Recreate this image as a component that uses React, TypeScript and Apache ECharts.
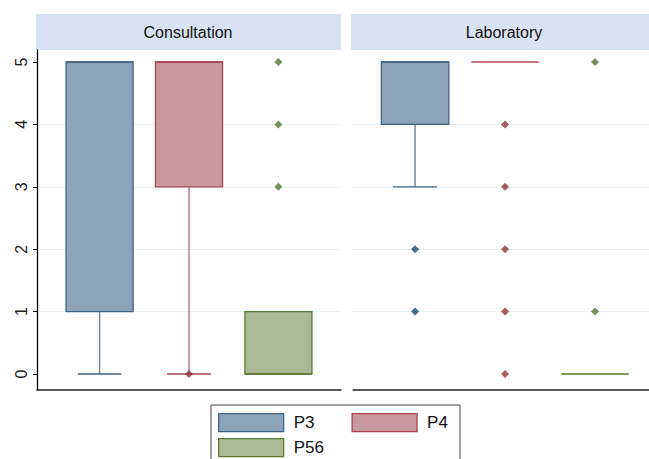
import React, { useEffect, useRef } from "react";
import * as echarts from "echarts";

// ---- data ----
const panels = ["Consultation", "Laboratory"];
const groups = ["P3", "P4", "P56"];
// five-number summaries: [lower adjacent, Q1, median, Q3, upper adjacent]
const consultationStats = [
  [0, 1, 5, 5, 5],
  [0, 3, 5, 5, 5],
  [0, 0, 0, 1, 1],
];
const laboratoryStats = [
  [3, 4, 5, 5, 5],
  [5, 5, 5, 5, 5],
  [0, 0, 0, 0, 0],
];
const consultationOutliers = [[], [0], [3, 4, 5]];
const laboratoryOutliers = [[2, 1], [4, 3, 2, 1, 0], [1, 5]];
const yTicks = [0, 1, 2, 3, 4, 5];

// ---- styles ----
const groupStyles = [
  { fill: "#8da3b8", border: "#3f6486", whisker: "#6d8aa6", marker: "#1a476f", flat: "#6f8cab" },
  { fill: "#c9999d", border: "#a5454e", whisker: "#c27f85", marker: "#90353b", flat: "#c4767d" },
  { fill: "#abba95", border: "#5a7a34", whisker: "#7f9a5e", marker: "#55752f", flat: "#7c9c57" },
];
const FONT = "'Liberation Sans', Arial, sans-serif";

export default function App() {
  const ref = useRef<HTMLDivElement>(null);

  useEffect(() => {
    if (!ref.current) return;
    const chart = echarts.init(ref.current, undefined, { renderer: "svg" });

    const statsByPanel = [consultationStats, laboratoryStats];
    const outByPanel = [consultationOutliers, laboratoryOutliers];

    const series: any[] = [];
    statsByPanel.forEach((stats, p) => {
      stats.forEach((s, g) => {
        const st = groupStyles[g];
        series.push({
          type: "custom",
          name: groups[g],
          xAxisIndex: p,
          yAxisIndex: p,
          data: [[g + 1, ...s]],
          encode: { x: 0, y: [1, 2, 3, 4, 5] },
          renderItem: (params: any, api: any) => {
            const x = api.value(0);
            const lo = api.value(1);
            const q1 = api.value(2);
            const med = api.value(3);
            const q3 = api.value(4);
            const hi = api.value(5);
            const half = api.size([0.75, 0])[0] / 2;
            const capHalf = api.size([0.49, 0])[0] / 2;
            const cx = api.coord([x, 0])[0];
            const y = (v: number) => api.coord([x, v])[1];
            const children: any[] = [];
            if (lo < q1) {
              children.push({
                type: "line",
                shape: { x1: cx, y1: y(q1), x2: cx, y2: y(lo) },
                style: { stroke: st.whisker, lineWidth: 1.5 },
              });
              children.push({
                type: "line",
                shape: { x1: cx - capHalf, y1: y(lo), x2: cx + capHalf, y2: y(lo) },
                style: { stroke: st.border, lineWidth: 1.3 },
              });
            }
            if (hi > q3) {
              children.push({
                type: "line",
                shape: { x1: cx, y1: y(q3), x2: cx, y2: y(hi) },
                style: { stroke: st.whisker, lineWidth: 1.5 },
              });
              children.push({
                type: "line",
                shape: { x1: cx - capHalf, y1: y(hi), x2: cx + capHalf, y2: y(hi) },
                style: { stroke: st.border, lineWidth: 1.3 },
              });
            }
            if (q3 > q1) {
              children.push({
                type: "rect",
                shape: { x: cx - half, y: y(q3), width: half * 2, height: y(q1) - y(q3) },
                style: { fill: st.fill, stroke: st.border, lineWidth: 1.3 },
              });
              children.push({
                type: "line",
                shape: { x1: cx - half, y1: y(med), x2: cx + half, y2: y(med) },
                style: { stroke: st.border, lineWidth: 1.6 },
              });
            } else {
              children.push({
                type: "line",
                shape: { x1: cx - half, y1: y(med), x2: cx + half, y2: y(med) },
                style: { stroke: st.flat, lineWidth: 2 },
              });
            }
            return { type: "group", children };
          },
          z: 2,
        });
      });
      outByPanel[p].forEach((vals, g) => {
        if (!vals.length) return;
        series.push({
          type: "scatter",
          name: groups[g],
          xAxisIndex: p,
          yAxisIndex: p,
          data: vals.map((v) => [g + 1, v]),
          symbol: "diamond",
          symbolSize: 8,
          itemStyle: { color: groupStyles[g].marker },
          z: 5,
        });
      });
    });

    const xAxisBase = {
      type: "value",
      axisLine: { show: true, onZero: false, lineStyle: { color: "#222", width: 1.5 } },
      axisTick: { show: false },
      axisLabel: { show: false },
      splitLine: { show: false },
    };
    const yAxisBase = (showLabels: boolean) => ({
      type: "value",
      min: -0.256,
      max: 5.192,
      splitNumber: 5,
      axisLine: { show: showLabels, onZero: false, lineStyle: { color: "#000", width: 1.3 } },
      axisTick: {
        show: showLabels,
        length: 4,
        customValues: yTicks,
        lineStyle: { color: "#000" },
      },
      axisLabel: {
        show: showLabels,
        rotate: 90,
        margin: 8,
        fontSize: 16,
        fontFamily: FONT,
        color: "#222",
        customValues: yTicks,
      },
      splitLine: {
        show: true,
        showMinLine: false,
        showMaxLine: false,
        lineStyle: { color: "#e7eff2", width: 1 },
      },
    });

    const legendItem = (g: number) => ({
      name: groups[g],
      icon: "rect",
      itemStyle: {
        color: groupStyles[g].fill,
        borderColor: groupStyles[g].border,
        borderWidth: 1.3,
      },
    });
    const legendBase = {
      orient: "horizontal",
      itemWidth: 65,
      itemHeight: 18,
      itemGap: 37,
      padding: 0,
      selectedMode: false,
      textStyle: { fontSize: 17, fontFamily: FONT, color: "#111", padding: [0, 0, 0, 5] },
    };

    chart.setOption({
      animation: false,
      backgroundColor: "#fff",
      textStyle: { fontFamily: FONT },
      grid: [
        { left: 37, top: 50, width: 304, height: 340 },
        { left: 353, top: 50, right: 0, height: 340 },
      ],
      xAxis: [
        { ...xAxisBase, gridIndex: 0, min: 0.3, max: 3.7 },
        { ...xAxisBase, gridIndex: 1, min: 0.31, max: 3.6 },
      ],
      yAxis: [
        { ...yAxisBase(true), gridIndex: 0 },
        { ...yAxisBase(false), gridIndex: 1 },
      ],
      legend: [
        { ...legendBase, left: 218, top: 413, data: [legendItem(0), legendItem(1)] },
        { ...legendBase, left: 218, top: 438, data: [legendItem(2)] },
      ],
      graphic: [
        { type: "rect", shape: { x: 36, y: 14, width: 305, height: 36 }, style: { fill: "#d9e2f3" }, silent: true },
        { type: "rect", shape: { x: 351, y: 14, width: 310, height: 36 }, style: { fill: "#d9e2f3" }, silent: true },
        {
          type: "text",
          x: 188,
          y: 32,
          style: { text: panels[0], font: `16px ${FONT}`, fill: "#111", textAlign: "center", textVerticalAlign: "middle" },
          silent: true,
        },
        {
          type: "text",
          x: 504,
          y: 32,
          style: { text: panels[1], font: `16px ${FONT}`, fill: "#111", textAlign: "center", textVerticalAlign: "middle" },
          silent: true,
        },
        {
          type: "rect",
          shape: { x: 211, y: 405, width: 249, height: 70 },
          style: { fill: "#fff", stroke: "#444", lineWidth: 1 },
          silent: true,
        },
      ],
      series,
    });

    return () => chart.dispose();
  }, []);

  return (
    <div
      ref={ref}
      style={{ position: "fixed", left: 0, top: 0, width: 649, height: 459, background: "#fff" }}
    />
  );
}
